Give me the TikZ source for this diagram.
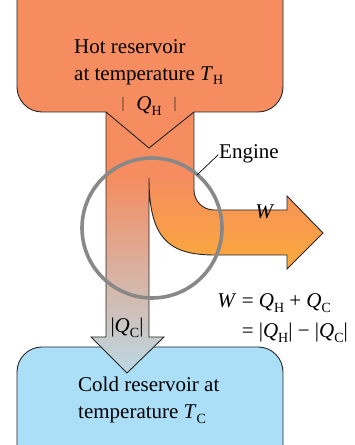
\documentclass[tikz,border=0pt]{standalone}
\usepackage{fontspec}
\setmainfont{Liberation Serif}
\usetikzlibrary{positioning}
\definecolor{hotfill}{HTML}{F58D60}
\definecolor{workfill}{HTML}{FBAA3A}
\definecolor{coldfill}{HTML}{ABDEF7}
\definecolor{fadefill}{HTML}{E9A082}
\definecolor{tipfill}{HTML}{BCD8E4}
\definecolor{ringgray}{HTML}{888888}
\newcommand\lowidx[1]{\raisebox{-0.22em}{\fontsize{14}{14}\selectfont #1}}
\newcommand\qh{\textit{Q}\lowidx{H}}
\newcommand\qc{\textit{Q}\lowidx{C}}
\tikzset{
  outline/.style={draw=black!85, line width=0.9pt},
  lbltext/.style={font=\fontsize{21}{27}\selectfont, inner sep=0pt},
  ring/.style={circle, draw=ringgray, line width=3.6pt,
    minimum size=140pt, inner sep=0pt},
}
\begin{document}
\begin{tikzpicture}[x=1pt,y=1pt]
  \useasboundingbox (0,0) rectangle (355,445);
  \clip (0,0) rectangle (355,445);
  % reservoirs
  \fill[hotfill, rounded corners=25pt] (17,333) rectangle (283,475);
  \fill[coldfill, rounded corners=25pt] (17,-30) rectangle (283,98);
  \draw[outline] (17,475) -- (17,358) arc[start angle=180,end angle=270,radius=25]
    -- (123,333) -- (123,348);
  \draw[outline] (175,348) -- (175,333) -- (258,333)
    arc[start angle=270,end angle=360,radius=25] -- (283,475);
  \draw[outline] (17,-30) -- (17,73) arc[start angle=180,end angle=90,radius=25]
    -- (258,98) arc[start angle=90,end angle=0,radius=25] -- (283,-30);
  % heat flow
  \fill[hotfill] (106,334) rectangle (194,266);
  \shade[top color=hotfill, bottom color=workfill]
    (149,267) -- (194,267) -- (194,255) to[out=-90,in=180] (214,235)
    -- (287,235) -- (287,249) -- (323,212) -- (287,176) -- (287,190)
    -- (215,190) .. controls (170,190) and (149,205) .. (149,267) -- cycle;
  \shade[top color=hotfill, middle color=fadefill, bottom color=tipfill]
    (106,268) -- (149,268) -- (149,108) -- (164,108) -- (127,72)
    -- (91,108) -- (106,108) -- cycle;
  \draw[outline] (106,333) -- (106,108) -- (91,108) -- (127,72) -- (164,108)
    -- (149,108) -- (149,267) .. controls (149,205) and (170,190) .. (215,190)
    -- (287,190) -- (287,176) -- (323,212) -- (287,249) -- (287,235)
    -- (214,235) to[out=180,in=-90] (194,255) -- (194,333);
  \draw[outline] (106,333) -- (149,297) -- (194,333);
  % labels
  \node[lbltext, align=left, anchor=west] (hottext) at (74,383)
    {Hot reservoir\\at temperature \textit{T}\lowidx{H}};
  \node[lbltext] (qhot) at (149,339) {\qh};
  \node[lbltext] (qcold) at (127,117) {|\qc|};
  \node[lbltext] (wlabel) at (265,233) {\textit{W}};
  \node[lbltext, align=left, anchor=west] (coldtext) at (78,45)
    {Cold reservoir at\\temperature \textit{T}\lowidx{C}};
  \node[lbltext, anchor=east] (balance) at (348,128)
    {\begin{tabular}{@{}r@{\ =\ }l@{}}
      \textit{W} & \qh\ + \qc\\[3pt]
                 & |\qh| − |\qc|
    \end{tabular}};
  % engine
  \node[ring] (engring) at (152,217) {};
  \node[lbltext, anchor=west] (engine) at (219,291) {Engine};
  \coordinate (enginetip) at (197,270);
  \draw[black, line width=0.7pt, shorten >=1pt] (enginetip) -- (engine.west);
\end{tikzpicture}
\end{document}
